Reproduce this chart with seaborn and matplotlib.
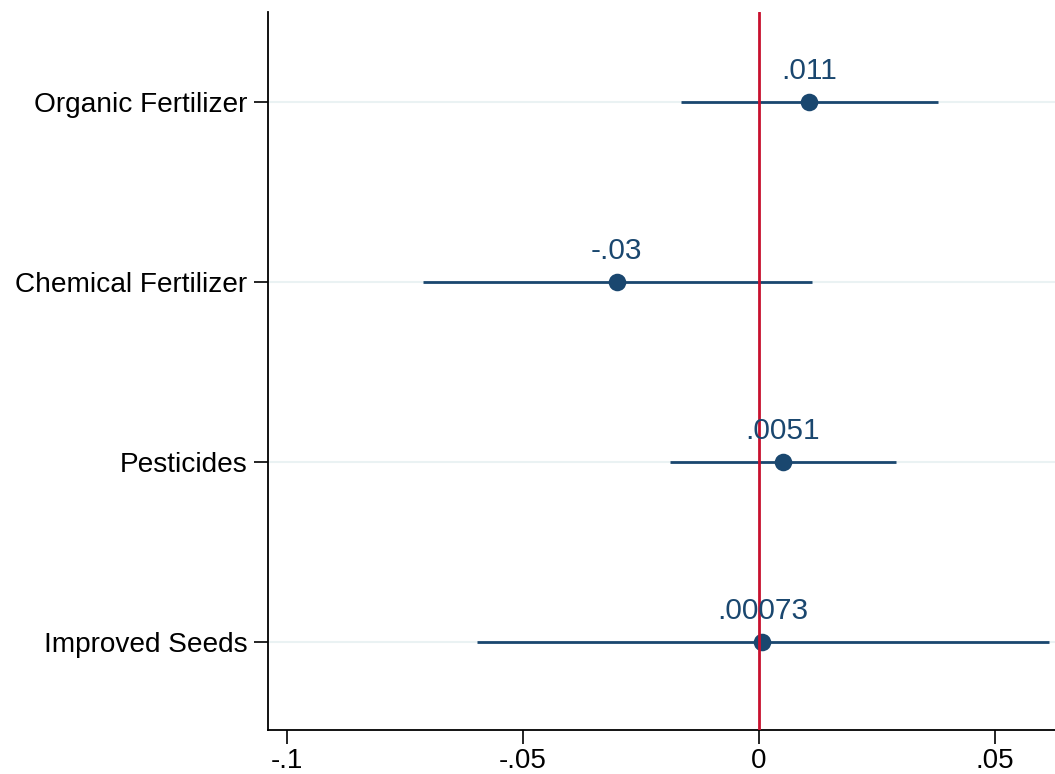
import matplotlib
matplotlib.use("Agg")
import matplotlib.pyplot as plt
import seaborn as sns
import pandas as pd
import numpy as np

categories = ["Organic Fertilizer", "Chemical Fertilizer", "Pesticides", "Improved Seeds"]
estimates = [0.0106, -0.0301, 0.0051, 0.00073]
ci_low = [-0.0165, -0.0711, -0.0189, -0.0597]
ci_high = [0.0379, 0.0112, 0.0290, 0.0614]
point_labels = [".011", "-.03", ".0051", ".00073"]
xticks = [-0.1, -0.05, 0, 0.05]
xtick_labels = ["-.1", "-.05", "0", ".05"]

sns.set_theme(style="white")
plt.rcParams['font.family'] = ['Liberation Sans', 'DejaVu Sans']

navy = "#1a476f"
red = "#c8102e"

df = pd.DataFrame({"cat": categories, "est": estimates, "lo": ci_low, "hi": ci_high})
ypos = np.arange(1, len(categories) + 1)
df["y"] = ypos

fig = plt.figure(figsize=(10.55, 7.74), dpi=100)
ax = fig.add_axes([0.254, 0.057, 0.746, 0.928])

for y in ypos:
    ax.axhline(y, color="#eaf2f3", lw=1.5, zorder=0)

ax.hlines(df["y"], df["lo"], df["hi"], color=navy, lw=2, zorder=2)
sns.scatterplot(data=df, x="est", y="y", color=navy, s=160, edgecolor=navy, linewidth=0, ax=ax, zorder=3)
ax.axvline(0, color=red, lw=2, zorder=4)

for x, y, t in zip(df["est"], df["y"], point_labels):
    ax.annotate(t, (x, y), xytext=(0, 12), textcoords="offset points", ha="center", va="bottom",
                fontsize=21.5, color=navy, zorder=5)

ax.set_xlim(-0.104, 0.0627)
ax.set_ylim(4.49, 0.5)
ax.set_yticks(ypos)
ax.set_yticklabels(categories, fontsize=20.2, color="black")
ax.set_xticks(xticks)
ax.set_xticklabels(xtick_labels, fontsize=20, color="black")
ax.set_xlabel("")
ax.set_ylabel("")
ax.tick_params(axis="both", which="both", length=10, width=1.2, color="black", direction="out",
               bottom=True, left=True)
ax.tick_params(axis="x", pad=3)
ax.tick_params(axis="y", pad=5)
for s in ["top", "right"]:
    ax.spines[s].set_visible(False)
for s in ["left", "bottom"]:
    ax.spines[s].set_color("black")
    ax.spines[s].set_linewidth(1.3)

fig.savefig("out.png", dpi=100)
